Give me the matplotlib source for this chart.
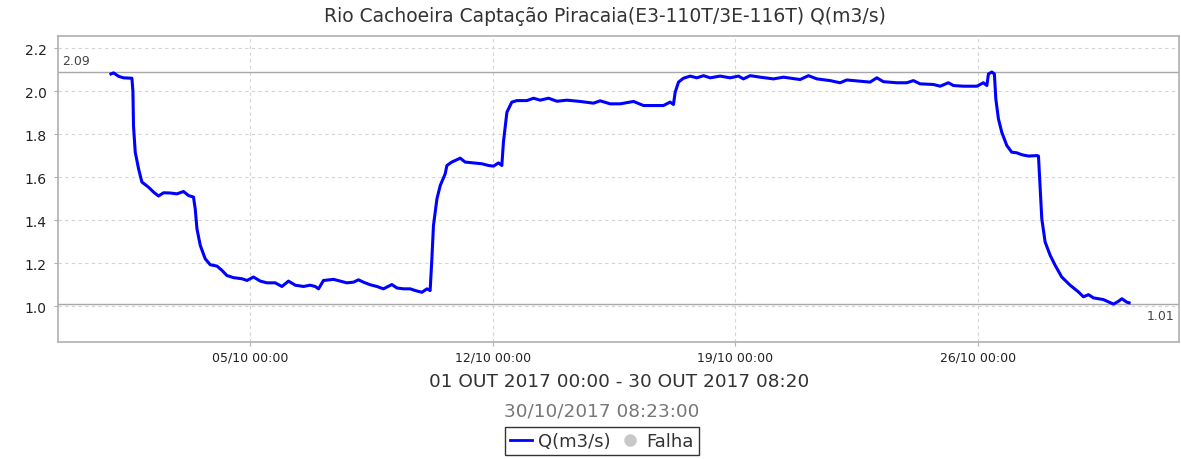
import matplotlib
matplotlib.use("Agg")
import matplotlib.pyplot as plt
import matplotlib.dates as mdates
from matplotlib.lines import Line2D
import pandas as pd

title = "Rio Cachoeira Captação Piracaia(E3-110T/3E-116T) Q(m3/s)"
period_label = "01 OUT 2017 00:00 - 30 OUT 2017 08:20"
generated_label = "30/10/2017 08:23:00"
series_name = "Q(m3/s)"
fail_name = "Falha"
start = pd.Timestamp("2017-10-01 00:00")

# hours since 01/10/2017 00:00
hours = [0, 1.8, 5.3, 8.7, 14.5, 15.2, 15.6, 16.8, 19.1, 21.4, 26.0, 29.5, 32.9, 36.4, 41.0,
         45.6, 50.2, 53.7, 57.1, 58.3, 59.5, 61.8, 65.2, 68.7, 73.3, 76.8, 80.2, 84.8, 90.6,
         94.1, 98.6, 103.3, 107.9, 113.6, 118.3, 122.8, 127.5, 133.2, 137.8, 141.3, 143.6,
         147.0, 154.0, 158.6, 163.2, 167.8, 171.2, 174.7, 179.3, 184.0, 188.5, 194.3, 197.8,
         202.4, 207.0, 210.5, 215.1, 218.6, 220.8, 222.0, 223.1, 225.5, 227.8, 231.2, 232.4,
         235.8, 241.6, 245.0, 250.8, 256.6, 261.2, 264.6, 268.1, 270.4, 271.5, 273.9, 277.3,
         280.8, 287.7, 292.3, 296.9, 302.7, 308.5, 315.4, 324.6, 333.8, 338.4, 345.3, 352.3,
         361.5, 368.4, 375.3, 382.2, 386.8, 389.1, 390.3, 392.6, 396.0, 400.7, 405.3, 409.9,
         414.5, 421.4, 428.3, 434.1, 437.5, 442.2, 449.1, 458.3, 465.2, 476.7, 482.5, 488.3,
         497.5, 504.4, 509.0, 518.2, 525.1, 529.8, 534.3, 543.6, 550.5, 555.1, 559.7, 568.9,
         573.6, 579.3, 582.8, 589.7, 599.0, 603.5, 605.9, 607.0, 609.3, 611.1, 612.1, 613.9,
         616.2, 619.7, 623.1, 626.6, 630.1, 634.6, 640.5, 641.6, 642.7, 643.9, 646.2, 649.7,
         653.1, 657.7, 663.5, 669.2, 672.7, 676.2, 679.6, 686.5, 693.5, 696.9, 699.3, 702.7,
         704.3]
flow = [2.081, 2.086, 2.070, 2.063, 2.061, 2.000, 1.840, 1.717, 1.640, 1.578, 1.554, 1.531,
        1.513, 1.528, 1.527, 1.523, 1.534, 1.515, 1.508, 1.453, 1.360, 1.283, 1.221, 1.193,
        1.187, 1.167, 1.143, 1.133, 1.128, 1.120, 1.136, 1.117, 1.109, 1.109, 1.092, 1.117,
        1.098, 1.092, 1.098, 1.092, 1.081, 1.120, 1.125, 1.117, 1.109, 1.112, 1.123, 1.112,
        1.100, 1.092, 1.081, 1.101, 1.085, 1.081, 1.081, 1.073, 1.065, 1.081, 1.073, 1.221,
        1.376, 1.500, 1.562, 1.616, 1.655, 1.671, 1.689, 1.671, 1.667, 1.663, 1.655, 1.652,
        1.667, 1.655, 1.764, 1.903, 1.950, 1.957, 1.957, 1.968, 1.959, 1.968, 1.954, 1.959,
        1.953, 1.945, 1.956, 1.942, 1.942, 1.953, 1.934, 1.934, 1.934, 1.950, 1.939, 1.996,
        2.043, 2.061, 2.071, 2.063, 2.073, 2.063, 2.071, 2.063, 2.071, 2.058, 2.073, 2.066,
        2.058, 2.066, 2.055, 2.073, 2.058, 2.050, 2.040, 2.053, 2.047, 2.043, 2.063, 2.045,
        2.040, 2.040, 2.050, 2.035, 2.032, 2.024, 2.040, 2.027, 2.024, 2.024, 2.040, 2.027,
        2.081, 2.090, 2.081, 1.965, 1.872, 1.810, 1.748, 1.717, 1.714, 1.705, 1.699, 1.701,
        1.699, 1.562, 1.407, 1.299, 1.237, 1.191, 1.136, 1.098, 1.067, 1.044, 1.054, 1.039,
        1.031, 1.010, 1.023, 1.035, 1.019, 1.016]
tick_days = [5, 12, 19, 26]

times = start + pd.to_timedelta(hours, unit="h")

fig = plt.figure(figsize=(11.81, 4.60), dpi=100)
ax = fig.add_axes([58 / 1181, 1 - 342.7 / 460, (1179 - 58) / 1181, (342.7 - 36.7) / 460])

ax.plot(times, flow, color="#0000ff", linewidth=2.2, solid_joinstyle="round", zorder=3)

vmax, vmin = max(flow), min(flow)
ax.axhline(vmax, color="#a8a8a8", linewidth=1.0, zorder=2)
ax.axhline(vmin, color="#a8a8a8", linewidth=1.0, zorder=2)
ax.text(0.004, vmax + 0.025, f"{vmax:.2f}", transform=ax.get_yaxis_transform(),
        ha="left", va="bottom", fontsize=9, color="#444444")
ax.text(0.996, vmin - 0.025, f"{vmin:.2f}", transform=ax.get_yaxis_transform(),
        ha="right", va="top", fontsize=9, color="#444444")

span = times[-1] - times[0]
ax.set_xlim(times[0] - span * 0.052, times[-1] + span * 0.049)
ax.set_ylim(0.835, 2.259)
ax.set_yticks([1.0, 1.2, 1.4, 1.6, 1.8, 2.0, 2.2])
ax.yaxis.set_major_formatter(matplotlib.ticker.FormatStrFormatter("%.1f"))
ax.xaxis.set_major_locator(mdates.DayLocator(bymonthday=tick_days))
ax.xaxis.set_major_formatter(mdates.DateFormatter("%d/%m %H:%M"))

ax.grid(True, color="#d4d4d4", linestyle=(0, (3, 3)), linewidth=0.8, zorder=1)
for s in ax.spines.values():
    s.set_color("#b0b0b0")
    s.set_linewidth(1.2)
ax.tick_params(axis="both", length=3, color="#b0b0b0", labelcolor="#222222")
ax.tick_params(axis="x", labelsize=9, pad=3)
ax.tick_params(axis="y", labelsize=10, pad=5)

fig.text(605 / 1181, 1 - 17 / 460, title, ha="center", va="center", fontsize=13.5, color="#333333")
fig.text(619 / 1181, 1 - 382 / 460, period_label, ha="center", va="center", fontsize=13.3, color="#333333")
fig.text(601.7 / 1181, 1 - 412 / 460, generated_label, ha="center", va="center", fontsize=13.3, color="#777777")

handles = [Line2D([], [], color="#0000ff", linewidth=2.0),
           Line2D([], [], color="#c8c8c8", marker="o", linestyle="none", markersize=8)]
leg = fig.legend(handles, [series_name, fail_name], loc="center", bbox_to_anchor=(602 / 1181, 1 - 442 / 460),
                 ncol=2, fontsize=13, frameon=True, fancybox=False, edgecolor="#000000",
                 handlelength=1.2, handletextpad=0.35, columnspacing=0.45, borderpad=0.25,
                 borderaxespad=0)
leg.get_frame().set_linewidth(1.0)
for t in leg.get_texts():
    t.set_color("#333333")

fig.savefig("out.png", dpi=100)
